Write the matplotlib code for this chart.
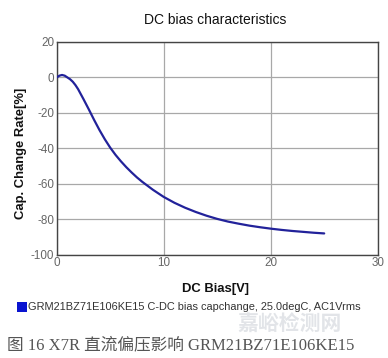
import matplotlib
matplotlib.use("Agg")
import matplotlib.pyplot as plt
from matplotlib.patches import Rectangle

plt.rcParams["axes.unicode_minus"] = False

bias_v = [0, 0.25, 0.5, 0.75, 1.0, 1.25, 1.5, 1.75, 2.0, 2.5, 3.0, 3.5, 4.0, 4.5, 5.0, 5.5,
          6.0, 6.5, 7.0, 7.5, 8.0, 9.0, 10, 11, 12, 13, 14, 15, 16, 17, 18, 19, 20,
          21, 22, 23, 24, 25]
cap_change = [0, 1.0, 1.4, 1.0, 0.0, -1.0, -2.4, -4.3, -6.6, -12.2, -18.0, -24.0, -29.7,
              -34.9, -39.6, -43.7, -47.3, -50.6, -53.6, -56.4, -58.9, -63.4, -67.4, -70.7,
              -73.5, -75.9, -78.0, -79.8, -81.3, -82.5, -83.6, -84.5, -85.3, -86.0, -86.6,
              -87.1, -87.6, -88.0]
x_ticks = [0, 10, 20, 30]
y_ticks = [-100, -80, -60, -40, -20, 0, 20]

title = "DC bias characteristics"
xlabel = "DC Bias[V]"
ylabel = "Cap. Change Rate[%]"
legend_text = "GRM21BZ71E106KE15 C-DC bias capchange, 25.0degC, AC1Vrms"
caption = "图 16 X7R 直流偏压影响 GRM21BZ71E106KE15"
watermark = "嘉峪检测网"

W, H = 388, 358
fig = plt.figure(figsize=(W / 100, H / 100), dpi=100)
fig.patch.set_facecolor("white")

left, right, top, bottom = 56.7, 377.7, 42, 254.7
ax = fig.add_axes([left / W, 1 - bottom / H, (right - left) / W, (bottom - top) / H])
ax.plot(bias_v, cap_change, color="#22229a", lw=1.6, solid_capstyle="round",
        solid_joinstyle="round", zorder=3)
ax.set_xlim(0, 30)
ax.set_ylim(-100, 20)
ax.set_xticks(x_ticks)
ax.set_yticks(y_ticks)
ax.grid(True, color="#a8a8a8", lw=0.9)
ax.set_axisbelow(True)
for s in ax.spines.values():
    s.set_color("#444444")
    s.set_linewidth(1.0)
ax.tick_params(length=0, pad=2, labelsize=8.4, labelcolor="#666666",
               labelfontfamily="Liberation Sans")

fs = "Liberation Sans"
fig.text(215 / W, 1 - 20 / H, title, ha="center", va="center", fontsize=10,
         family=fs, color="#111111")
fig.text(216 / W, 1 - 289 / H, xlabel, ha="center", va="center", fontsize=9.4,
         family=fs, weight="bold", color="#111111")
fig.text(21 / W, 1 - 153 / H, ylabel, ha="center", va="center", fontsize=9.4,
         family=fs, weight="bold", color="#111111", rotation=90)

fig.patches.append(Rectangle((16.5 / W, 1 - 312 / H), 10 / W, 10 / H,
                             transform=fig.transFigure, facecolor="#0a14d0",
                             edgecolor="none"))
fig.text(28 / W, 1 - 307.5 / H, legend_text, ha="left", va="center", fontsize=7.9,
         family=fs, color="#333333")

fig.text(237 / W, 1 - 323 / H, watermark, ha="left", va="center", fontsize=15,
         family=["Noto Sans CJK SC"], weight="bold", color="#dfe2e6", alpha=0.9)

fig.text(7 / W, 1 - 345 / H, caption, ha="left", va="center", fontsize=12,
         family=["Liberation Serif", "Noto Sans CJK SC"], color="#555555")

fig.savefig("out.png", dpi=100)
